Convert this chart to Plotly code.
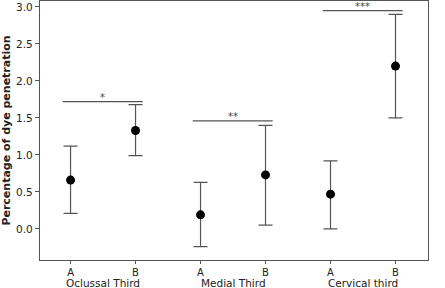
import plotly.graph_objects as go

categories = ["A", "B", "A", "B", "A", "B"]
groups = ["Oclussal Third", "Medial Third", "Cervical third"]
means = [0.66, 1.33, 0.19, 0.73, 0.47, 2.20]
upper = [1.12, 1.68, 0.63, 1.40, 0.92, 2.90]
lower = [0.21, 0.99, -0.24, 0.05, 0.00, 1.50]
sig_labels = ["*", "**", "***"]
sig_levels = [1.72, 1.46, 2.95]

xpos = list(range(1, len(categories) + 1))
err_plus = [u - m for u, m in zip(upper, means)]
err_minus = [m - l for m, l in zip(means, lower)]

fig = go.Figure()
fig.add_trace(go.Scatter(
    x=xpos, y=means, mode="markers",
    marker=dict(color="black", size=9),
    error_y=dict(type="data", symmetric=False, array=err_plus, arrayminus=err_minus,
                 color="#555555", thickness=1.2, width=7),
    showlegend=False,
))

line_col = "#555555"
for i, (lab, lvl) in enumerate(zip(sig_labels, sig_levels)):
    x0 = xpos[2 * i] - 0.12
    x1 = xpos[2 * i + 1] + 0.11
    fig.add_shape(type="line", x0=x0, x1=x1, y0=lvl, y1=lvl, xref="x", yref="y",
                  line=dict(color=line_col, width=1.2))
    fig.add_annotation(x=(x0 + x1) / 2, y=lvl, text=lab, showarrow=False,
                       yanchor="bottom", yshift=-3, xref="x", yref="y",
                       font=dict(size=10, color="#444444"))

for i, g in enumerate(groups):
    fig.add_annotation(x=(xpos[2 * i] + xpos[2 * i + 1]) / 2, y=0, xref="x", yref="paper",
                       text=g, showarrow=False, yanchor="top", yshift=-15,
                       font=dict(size=10.5, color="#222222"))

fig.update_layout(
    width=445, height=288,
    margin=dict(l=40, r=17, t=1, b=28),
    paper_bgcolor="white", plot_bgcolor="white",
    font=dict(family="DejaVu Sans", size=10, color="#222222"),
    xaxis=dict(range=[0.53, 6.5], tickvals=xpos, ticktext=categories, automargin=False,
               showgrid=False, zeroline=False, showline=True, linecolor=line_col,
               linewidth=1.2, mirror=True, ticks="outside", ticklen=3, tickcolor=line_col,
               tickfont=dict(size=10)),
    yaxis=dict(range=[-0.42, 3.08], tickvals=[0, 0.5, 1, 1.5, 2, 2.5, 3], automargin=False,
               tickformat=".1f", showgrid=False, zeroline=False, showline=True,
               linecolor=line_col, linewidth=1.2, mirror=True, ticks="outside",
               ticklen=4, tickcolor=line_col, tickfont=dict(size=10.5),
               title=dict(text="<b>Percentage of dye penetration</b>", standoff=4,
                          font=dict(size=11))),
)

fig.write_html("out.html", config={"displayModeBar": False},
               post_script="document.body.style.margin='0px';")
